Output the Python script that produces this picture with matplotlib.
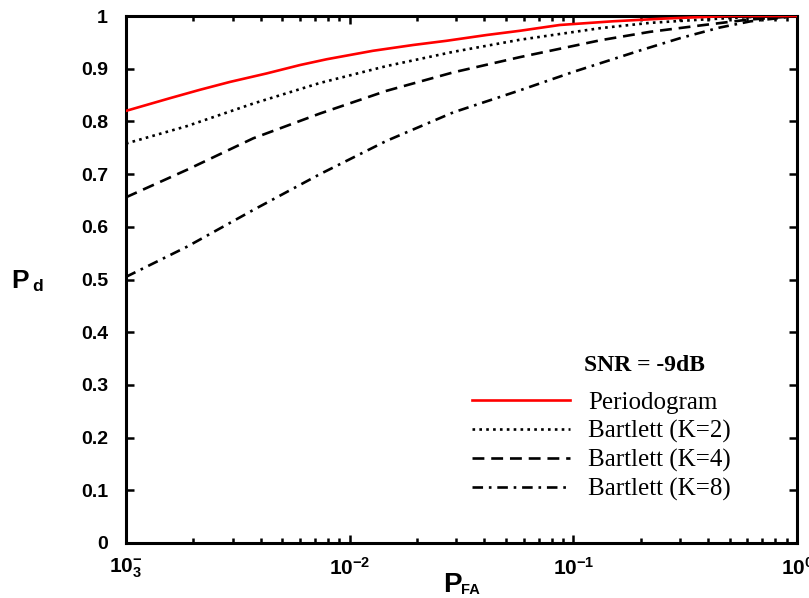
import matplotlib
matplotlib.use("Agg")
import matplotlib.pyplot as plt
from matplotlib import ticker
import numpy as np

plt.rcParams["mathtext.fontset"] = "custom"
plt.rcParams["mathtext.rm"] = "Liberation Sans:bold"
plt.rcParams["mathtext.it"] = "Liberation Sans:bold"
plt.rcParams["mathtext.bf"] = "Liberation Sans:bold"

# 읽어낸 값 (P_FA, P_d)
pfa_periodogram = [1.0e-3, 1.57e-3, 2.14e-3, 2.92e-3, 4.25e-3, 6.0e-3, 7.9e-3,
                   1.27e-2, 1.92e-2, 2.71e-2, 4.1e-2, 5.77e-2, 8.7e-2, 0.15,
                   0.25, 0.37, 0.5, 0.7, 1.0]
pd_periodogram = [0.820, 0.844, 0.860, 0.875, 0.891, 0.907, 0.918,
                  0.934, 0.945, 0.953, 0.964, 0.972, 0.983, 0.990,
                  0.995, 0.998, 1.000, 1.000, 1.000]

pfa_k2 = [1.0e-3, 1.87e-3, 3.71e-3, 7.37e-3, 1.46e-2, 2.9e-2, 5.77e-2,
          0.132, 0.22, 0.368, 0.6, 1.0]
pd_k2 = [0.758, 0.791, 0.834, 0.873, 0.905, 0.932, 0.955,
         0.977, 0.987, 0.993, 0.998, 1.000]

pfa_k4 = [1.0e-3, 1.87e-3, 3.71e-3, 7.37e-3, 1.46e-2, 2.9e-2, 5.77e-2,
          0.132, 0.22, 0.368, 0.6, 1.0]
pd_k4 = [0.656, 0.708, 0.768, 0.815, 0.858, 0.893, 0.922,
         0.954, 0.970, 0.982, 0.993, 1.000]

pfa_k8 = [1.0e-3, 1.87e-3, 3.71e-3, 7.37e-3, 1.46e-2, 2.9e-2, 5.77e-2,
          0.1, 0.2, 0.3, 0.45, 0.62, 1.0]
pd_k8 = [0.505, 0.562, 0.632, 0.700, 0.763, 0.817, 0.859,
         0.894, 0.935, 0.958, 0.978, 0.990, 1.000]

x_ticks = [1e-3, 1e-2, 1e-1, 1e0]
x_ticklabels = [r"$10^{-}_{3}$", r"$10^{-2}$", r"$10^{-1}$", r"$10^{0}$"]
y_ticks = [0, 0.1, 0.2, 0.3, 0.4, 0.5, 0.6, 0.7, 0.8, 0.9, 1]
y_ticklabels = ["0", "0.1", "0.2", "0.3", "0.4", "0.5", "0.6", "0.7", "0.8", "0.9", "1"]

fig = plt.figure(figsize=(8.09, 5.98), dpi=100)
ax = fig.add_axes([0.1557, 0.092, 0.8295, 0.8812])

ax.plot(pfa_periodogram, pd_periodogram, color="red", linewidth=1.9,
        label="Periodogram", zorder=5)
ax.plot(pfa_k2, pd_k2, color="black", linewidth=1.9, linestyle=(0, (1.0, 1.6)),
        label="Bartlett (K=2)")
ax.plot(pfa_k4, pd_k4, color="black", linewidth=1.9, linestyle=(0, (4.5, 2.6)),
        label="Bartlett (K=4)")
ax.plot(pfa_k8, pd_k8, color="black", linewidth=1.9,
        linestyle=(0, (4.0, 2.2, 1.0, 2.2)), label="Bartlett (K=8)")

ax.set_xscale("log")
ax.set_xlim(1e-3, 1)
ax.set_ylim(0, 1)
ax.set_xticks(x_ticks)
ax.set_xticklabels(x_ticklabels, fontsize=15)
ax.xaxis.set_minor_locator(ticker.LogLocator(base=10, subs=np.arange(2, 10)))
ax.xaxis.set_minor_formatter(ticker.NullFormatter())
ax.set_yticks(y_ticks)
ax.set_yticklabels(y_ticklabels, fontsize=14, fontweight="bold",
                   family="Liberation Sans")

for s in ax.spines.values():
    s.set_linewidth(2.2)
ax.tick_params(which="both", direction="in", top=True, right=True,
               width=1.8, colors="black")
ax.tick_params(which="major", length=6)
ax.tick_params(which="minor", length=3.5)
ax.tick_params(axis="x", pad=10)
ax.tick_params(axis="y", pad=13)

# 축 이름 (P 와 아래 첨자를 따로)
fig.text(452 / 809, 1 - 592 / 598, "P", fontsize=20, fontweight="bold",
         family="Liberation Sans", ha="center", va="baseline")
fig.text(461 / 809, 1 - 594 / 598, "FA", fontsize=10.5, fontweight="bold",
         family="Liberation Sans", ha="left", va="baseline")
fig.text(20.5 / 809, 1 - 288 / 598, "P", fontsize=19, fontweight="bold",
         family="Liberation Sans", ha="center", va="baseline")
fig.text(32 / 809, 1 - 291 / 598, "d", fontsize=12.5, fontweight="bold",
         family="Liberation Sans", ha="left", va="baseline")

ax.text(0.773, 0.337, "SNR = -9dB", transform=ax.transAxes, ha="center",
        va="center", family="Liberation Serif", fontsize=17, fontweight="bold")

ax.legend(loc="upper left", bbox_to_anchor=(0.516, 0.288), frameon=False,
          borderpad=0, borderaxespad=0,
          handlelength=3.92, handletextpad=0.72, labelspacing=0.24,
          prop={"family": "Liberation Serif", "size": 18})

fig.savefig("out.png", dpi=100)
